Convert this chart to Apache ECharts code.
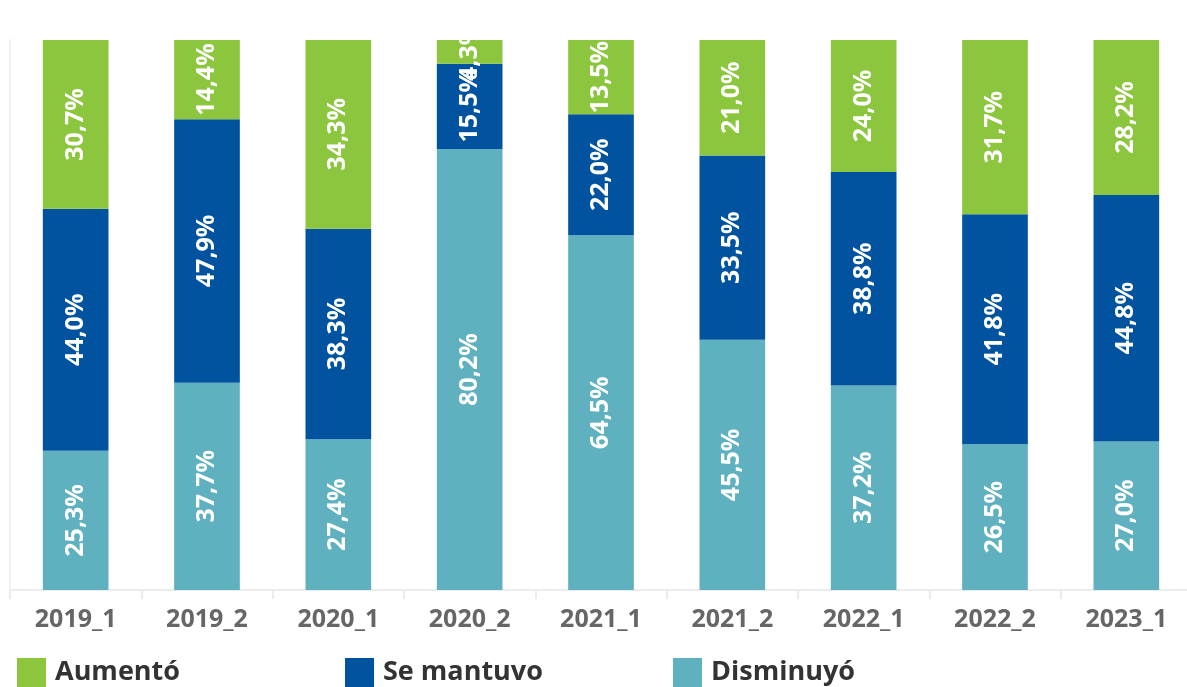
<!DOCTYPE html>
<html>
<head>
<meta charset="utf-8">
<script src="https://cdn.jsdelivr.net/npm/echarts@6/dist/echarts.min.js"></script>
<style>
html,body{margin:0;padding:0;background:#fff;overflow:hidden;}
#chart{width:1187px;height:687px;}
</style>
</head>
<body>
<div id="chart"></div>
<script>
var categories = ['2019_1','2019_2','2020_1','2020_2','2021_1','2021_2','2022_1','2022_2','2023_1'];
var disminuyo = [25.3, 37.7, 27.4, 80.2, 64.5, 45.5, 37.2, 26.5, 27.0];
var semantuvo = [44.0, 47.9, 38.3, 15.5, 22.0, 33.5, 38.8, 41.8, 44.8];
var aumento   = [30.7, 14.4, 34.3, 4.3, 13.5, 21.0, 24.0, 31.7, 28.2];

var FONT = "'Open Sans', 'Noto Sans', sans-serif";
var chart = echarts.init(document.getElementById('chart'));

function lbl() {
  return {
    show: true,
    position: 'inside',
    rotate: 90,
    color: '#ffffff',
    fontFamily: FONT,
    fontWeight: 'bold',
    fontSize: 25,
    formatter: function (p) { return p.value.toFixed(1).replace('.', ',') + '%'; }
  };
}
function legend(name, left) {
  return {
    data: [name],
    left: left,
    top: 658,
    icon: 'rect',
    itemWidth: 29,
    itemHeight: 29,
    itemGap: 10,
    selectedMode: false,
    padding: 0,
    textStyle: { color: '#333333', fontFamily: FONT, fontWeight: 'bold', fontSize: 27, padding: [0, 0, 0, 4] }
  };
}

chart.setOption({
  animation: false,
  grid: { left: 10, right: -5, top: 40, bottom: 97, containLabel: false, outerBoundsMode: 'none' },
  legend: [legend('Aumentó', 17), legend('Se mantuvo', 345), legend('Disminuyó', 673)],
  xAxis: {
    type: 'category',
    data: categories,
    axisLine: { show: true, lineStyle: { color: '#ececec', width: 2 } },
    axisTick: { show: true, length: 9, lineStyle: { color: '#ececec', width: 2 } },
    axisLabel: { color: '#666666', fontFamily: FONT, fontWeight: 'bold', fontSize: 25, margin: 17 }
  },
  yAxis: {
    type: 'value',
    min: 0,
    max: 100,
    show: true,
    axisLine: { show: true, lineStyle: { color: '#f2f2f2', width: 2 } },
    axisTick: { show: false },
    axisLabel: { show: false },
    splitLine: { show: false }
  },
  series: [
    { name: 'Disminuyó', type: 'bar', stack: 'a', data: disminuyo, barWidth: '50%', itemStyle: { color: '#5fb1bf' }, label: lbl() },
    { name: 'Se mantuvo', type: 'bar', stack: 'a', data: semantuvo, itemStyle: { color: '#02539f' }, label: lbl() },
    { name: 'Aumentó', type: 'bar', stack: 'a', data: aumento, itemStyle: { color: '#8cc63f' }, label: lbl() }
  ]
});
</script>
</body>
</html>
